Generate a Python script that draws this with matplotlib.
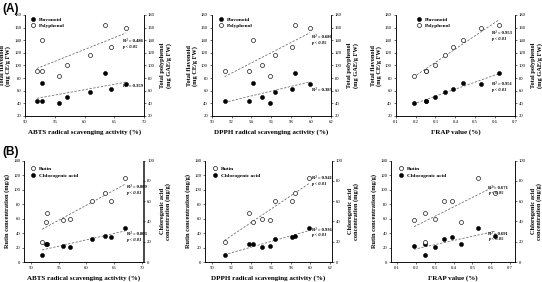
import numpy as np
import matplotlib
matplotlib.use("Agg")
import matplotlib.pyplot as plt
from matplotlib.lines import Line2D

# ---- data (9 samples) ----
abts = [52.0, 52.9, 52.8, 55.7, 57.0, 61.0, 63.4, 64.4, 67.0]
dpph = [51.3, 53.8, 54.2, 55.9, 55.1, 56.4, 58.4, 58.1, 59.9]
frap = [0.25, 0.25, 0.44, 0.19, 0.30, 0.35, 0.62, 0.39, 0.53]
flavonoid = [44, 44, 73, 41, 49.5, 57.5, 88.5, 63, 71]
polyphenol = [91, 91, 141, 84, 101, 116, 164, 129, 159]
rutin = [27.6, 68.2, 55.8, 58.5, 59, 83.9, 95, 83.9, 116.6]
chlorogenic = [6.9, 17.4, 17.4, 15.8, 14.5, 23, 26, 24.7, 33.9]

x_labels = ["ABTS radical scavenging activity (%)",
            "DPPH radical scavenging activity (%)",
            "FRAP value (%)"]
x_ticks = [[50, 55, 60, 65, 70], [50, 52, 54, 56, 58, 60, 62],
           [0.1, 0.2, 0.3, 0.4, 0.5, 0.6, 0.7]]
r2_A = [("R² = 0.486", "p < 0.05", "R² = 0.359", None),
        ("R² = 0.686", "p < 0.05", "R² = 0.385", None),
        ("R² = 0.953", "p < 0.01", "R² = 0.951", "p < 0.01")]
r2_B = [("R² = 0.809", "p < 0.01", "R² = 0.803", "p < 0.01"),
        ("R² = 0.941", "p < 0.01", "R² = 0.936", "p < 0.01"),
        ("R² = 0.671", "p < 0.05", "R² = 0.691", "p < 0.05")]

W, H = 542, 282
fig = plt.figure(figsize=(W / 100, H / 100), dpi=100)
SERIF = "Liberation Serif"
TS = 3.4   # tick label size


def add_ax(l, r, t, b):
    return fig.add_axes([l / W, 1 - b / H, (r - l) / W, (b - t) / H])


def style(ax, right=False):
    ax.spines["top"].set_visible(False)
    for s in ax.spines.values():
        s.set_linewidth(0.5)
    ax.tick_params(axis="both", direction="out", length=1.5, width=0.4,
                   labelsize=TS, pad=1.2)
    for lab in ax.get_xticklabels() + ax.get_yticklabels():
        lab.set_fontfamily(SERIF)


def trend(ax, x, y):
    x = np.asarray(x, float)
    y = np.asarray(y, float)
    k, b = np.polyfit(x, y, 1)
    xs = np.array([x.min(), x.max()])
    ax.plot(xs, k * xs + b, ls=(0, (3, 2)), color="#666666", lw=0.55, zorder=2)


def fmt_tick(v):
    return f"{v:g}"


xs_data = [abts, dpph, frap]
A_pos = [(25, 144), (211.7, 331), (395.7, 515)]
B_pos = [(24, 143.5), (205, 332), (391, 515)]
A_xlim = [(50, 70), (50, 62), (0.1, 0.7)]
B_xlim = [(48.74, 70.33), (49.32, 62.2), (0.068, 0.7265)]
A_leg = [0.015, 0.02, 0.14]
B_leg = [0.02, 0.03, 0.03]
A_txt = [(0.82, 0.745, 0.686, 0.297, None), (0.838, 0.785, 0.725, 0.257, None),
         (0.805, 0.825, 0.765, 0.317, 0.26)]
B_txt = [(0.86, 0.743, 0.684, 0.276, 0.22), (0.84, 0.832, 0.773, 0.316, 0.263),
         (0.785, 0.733, 0.678, 0.273, 0.224)]

mk = dict(marker="o", markersize=2.9, linestyle="none", zorder=3)
filled = dict(mk, markerfacecolor="black", markeredgecolor="black", markeredgewidth=0.4)
opened = dict(mk, markerfacecolor="white", markeredgecolor="black", markeredgewidth=0.45)
txtkw = dict(fontsize=3.3, fontfamily=SERIF, fontweight="bold", ha="left", va="center")
legprop = dict(family=SERIF, weight="bold", size=3.9)

# ---------- row A ----------
for i in range(3):
    l, r = A_pos[i]
    ax = add_ax(l, r, 15, 116)
    ax2 = ax.twinx()
    x = xs_data[i]
    ax.plot(x, flavonoid, **filled)
    ax2.plot(x, polyphenol, **opened)
    trend(ax, x, flavonoid)
    trend(ax2, x, polyphenol)
    ax.set_xlim(*A_xlim[i])
    ax.set_xticks(x_ticks[i])
    ax.set_xticklabels([fmt_tick(v) for v in x_ticks[i]])
    for a in (ax, ax2):
        a.set_ylim(20, 180)
        a.set_yticks(range(20, 181, 20))
    style(ax)
    style(ax2)
    ax.set_xlabel(x_labels[i], fontsize=5, fontfamily=SERIF, fontweight="bold", labelpad=4)
    ax.set_ylabel("Total flavonoid\n(mg CE/g FW)", fontsize=4.6, fontfamily=SERIF,
                  fontweight="bold", labelpad=2, linespacing=1.1)
    ax2.set_ylabel("Total polyphenol\n(mg GAE/g FW)", fontsize=4.6, fontfamily=SERIF,
                   fontweight="bold", labelpad=4, rotation=90, linespacing=1.1)
    ax.set_zorder(ax2.get_zorder() + 1)
    ax.patch.set_visible(False)
    handles = [Line2D([], [], **filled), Line2D([], [], **opened)]
    ax.legend(handles, ["Flavonoid", "Polyphenol"], loc="upper left",
              bbox_to_anchor=(A_leg[i], 1.02), frameon=False, handlelength=1.0,
              handletextpad=0.6, labelspacing=0.35, borderpad=0.2, prop=legprop)
    tx, y1, y2, y3, y4 = A_txt[i]
    t1, t2, t3, t4 = r2_A[i]
    ax.text(tx, y1, t1, transform=ax.transAxes, **txtkw)
    ax.text(tx, y2, t2, transform=ax.transAxes, style="italic", **txtkw)
    ax.text(tx, y3, t3, transform=ax.transAxes, **txtkw)
    if t4:
        ax.text(tx, y4, t4, transform=ax.transAxes, style="italic", **txtkw)

# ---------- row B ----------
for i in range(3):
    l, r = B_pos[i]
    ax = add_ax(l, r, 160.7, 262)
    ax2 = ax.twinx()
    x = xs_data[i]
    ax.plot(x, rutin, **opened)
    ax2.plot(x, chlorogenic, **filled)
    trend(ax, x, rutin)
    trend(ax2, x, chlorogenic)
    ax.set_xlim(*B_xlim[i])
    ax.set_xticks(x_ticks[i])
    ax.set_xticklabels([fmt_tick(v) for v in x_ticks[i]])
    ax.set_ylim(0, 140)
    ax.set_yticks(range(0, 141, 20))
    ax2.set_ylim(0, 100)
    ax2.set_yticks(range(0, 101, 20))
    style(ax)
    style(ax2)
    ax.set_xlabel(x_labels[i], fontsize=5, fontfamily=SERIF, fontweight="bold", labelpad=4)
    ax.set_ylabel("Rutin concentration (mg/g)", fontsize=4.6, fontfamily=SERIF,
                  fontweight="bold", labelpad=2)
    ax2.set_ylabel("Chlorogenic acid\nconcentration (mg/g)", fontsize=4.6, fontfamily=SERIF,
                   fontweight="bold", labelpad=4, rotation=90, linespacing=1.1)
    ax.set_zorder(ax2.get_zorder() + 1)
    ax.patch.set_visible(False)
    handles = [Line2D([], [], **opened), Line2D([], [], **filled)]
    ax.legend(handles, ["Rutin", "Chlorogenic acid"], loc="upper left",
              bbox_to_anchor=(B_leg[i], 0.98), frameon=False, handlelength=1.0,
              handletextpad=0.6, labelspacing=0.35, borderpad=0.2, prop=legprop)
    tx, y1, y2, y3, y4 = B_txt[i]
    t1, t2, t3, t4 = r2_B[i]
    ax.text(tx, y1, t1, transform=ax.transAxes, **txtkw)
    ax.text(tx, y2, t2, transform=ax.transAxes, style="italic", **txtkw)
    ax.text(tx, y3, t3, transform=ax.transAxes, **txtkw)
    ax.text(tx, y4, t4, transform=ax.transAxes, style="italic", **txtkw)

fig.text(2 / W, 1 - 9 / H, "(A)", fontsize=8.5, fontweight="bold",
         fontfamily="Liberation Sans", va="center", ha="left")
fig.text(2 / W, 1 - 152 / H, "(B)", fontsize=8.5, fontweight="bold",
         fontfamily="Liberation Sans", va="center", ha="left")

fig.savefig("out.png", dpi=100)
